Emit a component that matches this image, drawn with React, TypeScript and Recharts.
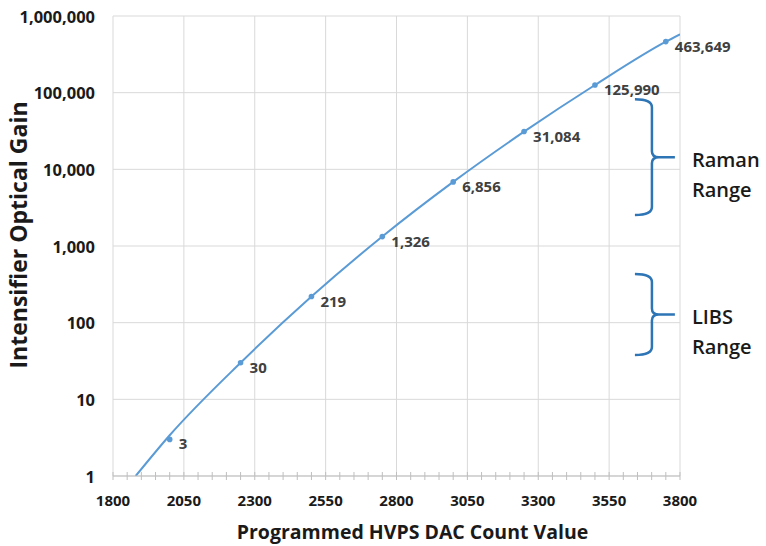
import React from 'react';
import {
  ComposedChart, Line, XAxis, YAxis, CartesianGrid, ReferenceArea, Label,
} from 'recharts';

// measured points (DAC count, optical gain)
const dacCounts = [2000, 2250, 2500, 2750, 3000, 3250, 3500, 3750];
const gains = [3, 30, 219, 1326, 6856, 31084, 125990, 463649];

// trend line
const trendCounts = [1880, 2000, 2250, 2500, 2750, 3000, 3250, 3500, 3750, 3800];
const trendGains = [1, 3.4, 30, 219, 1330, 6860, 31000, 126000, 463000, 578000];

const xTicks = [1800, 2050, 2300, 2550, 2800, 3050, 3300, 3550, 3800];
const yTicks = [1, 10, 100, 1000, 10000, 100000, 1000000];

// annotation ranges (gain values)
const ramanRange = [2530, 82000];
const libsRange = [38, 430];

const points = dacCounts.map((x, i) => ({ x, y: gains[i] }));
const trend = trendCounts.map((x, i) => ({ x, y: trendGains[i] }));
const minorTicks = Array.from({ length: 41 }, (_, i) => 1800 + i * 50);

const BLUE = '#5b9bd5';
const BRACE = '#2e75b6';
const FONT = '"Open Sans", sans-serif';

const fmt = (v: number) => v.toLocaleString('en-US');

const XTick = (props: any) => {
  const { x, y, payload } = props;
  const major = xTicks.includes(payload.value);
  return (
    <g>
      <line x1={x} x2={x} y1={y - 4} y2={y + 4} stroke="#bfbfbf" />
      {major && (
        <text x={x} y={y + 24} textAnchor="middle" dominantBaseline="central"
          fontFamily={FONT} fontWeight="bold" fontSize={15} fill="#1a1a1a">
          {payload.value}
        </text>
      )}
    </g>
  );
};

const YTick = (props: any) => {
  const { x, y, payload } = props;
  return (
    <text x={x} y={y} textAnchor="end" dominantBaseline="central"
      fontFamily={FONT} fontWeight="bold" fontSize={16.5} fill="#1a1a1a">
      {fmt(payload.value)}
    </text>
  );
};

const DataLabel = (props: any) => {
  const { x, y, value } = props;
  return (
    <text x={x + 9} y={y + 4} dominantBaseline="central" fontFamily={FONT}
      fontWeight="bold" fontSize={15} fill="#404040">
      {fmt(value)}
    </text>
  );
};

const brace = (lines: string[]) => (props: any) => {
  const { x, y, width, height } = props;
  const xv = x + 17;
  const xr = x + width;
  const mid = y + height / 2;
  const bot = y + height;
  const d = `M${x},${y} Q${xv},${y} ${xv},${y + 8} L${xv},${mid - 6} Q${xv},${mid} ${xv + 7},${mid} L${xr},${mid}`
    + ` M${xv + 7},${mid} Q${xv},${mid} ${xv},${mid + 6} L${xv},${bot - 8} Q${xv},${bot} ${x},${bot}`;
  return (
    <g>
      <path d={d} fill="none" stroke={BRACE} strokeWidth={2.5} />
      {lines.map((t, i) => (
        <text key={t + i} x={xr + 17} y={mid + 2 + i * 30} dominantBaseline="central"
          fontFamily={FONT} fontWeight={600} fontSize={20} fill="#1a1a1a">
          {t}
        </text>
      ))}
    </g>
  );
};

export default function App() {
  return (
    <div style={{ position: 'absolute', left: 0, top: 0, background: '#fff' }}>
      <ComposedChart width={766} height={546} margin={{ top: 16, right: 86, bottom: 0, left: 0 }}>
        <CartesianGrid stroke="#d9d9d9" verticalValues={xTicks} />
        <XAxis dataKey="x" type="number" domain={[1800, 3800]} ticks={minorTicks}
          interval={0} allowDataOverflow height={70} tickLine={false} tickSize={0} tickMargin={0}
          axisLine={{ stroke: '#bfbfbf' }} tick={<XTick />}>
          <Label content={(p: any) => {
            const vb = p.viewBox;
            return (
              <text x={vb.x + vb.width / 2 + 16} y={531} textAnchor="middle" dominantBaseline="central"
                fontFamily={FONT} fontWeight="bold" fontSize={19.5} fill="#1a1a1a">
                Programmed HVPS DAC Count Value
              </text>
            );
          }} />
        </XAxis>
        <YAxis type="number" scale="log" domain={[1, 1000000]} ticks={yTicks} allowDataOverflow
          width={113} axisLine={false} tickLine={false} tickSize={0} tickMargin={18}
          tick={<YTick />}>
          <Label content={() => (
            <text x={18} y={235} transform="rotate(-90 18 235)" textAnchor="middle"
              dominantBaseline="central" fontFamily={FONT} fontWeight="bold" fontSize={23} fill="#1a1a1a">
              Intensifier Optical Gain
            </text>
          )} />
        </YAxis>
        <ReferenceArea x1={3641} x2={3782} y1={ramanRange[1]} y2={ramanRange[0]} ifOverflow="visible"
          shape={brace(['Raman', 'Range'])} />
        <ReferenceArea x1={3641} x2={3782} y1={libsRange[1]} y2={libsRange[0]} ifOverflow="visible"
          shape={brace(['LIBS', 'Range'])} />
        <Line data={trend} dataKey="y" type="monotone" stroke={BLUE} strokeWidth={2}
          dot={false} isAnimationActive={false} />
        <Line data={points} dataKey="y" stroke="none" dot={{ r: 2.8, fill: BLUE, stroke: BLUE, strokeWidth: 0 }}
          activeDot={false} label={<DataLabel />} isAnimationActive={false} />
      </ComposedChart>
    </div>
  );
}
